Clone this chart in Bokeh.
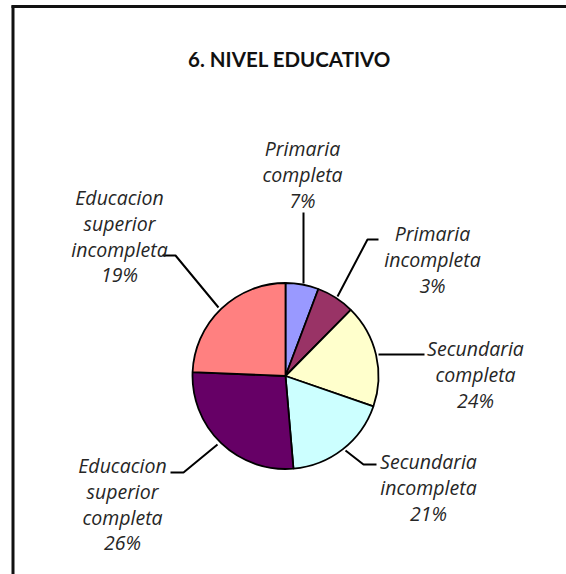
import numpy as np
from bokeh.plotting import figure
from bokeh.models import ColumnDataSource, Range1d
from bokeh.core.properties import value
from bokeh.embed import file_html
from bokeh.resources import INLINE

# ---------------- data ----------------
title_text = "6. NIVEL EDUCATIVO"
categories = ["Primaria completa", "Primaria incompleta", "Secundaria completa",
              "Secundaria incompleta", "Educacion superior completa",
              "Educacion superior incompleta"]
label_lines = [["Primaria", "completa"], ["Primaria", "incompleta"],
               ["Secundaria", "completa"], ["Secundaria", "incompleta"],
               ["Educacion", "superior", "completa"],
               ["Educacion", "superior", "incompleta"]]
pct_labels = ["7%", "3%", "24%", "21%", "26%", "19%"]
# slice sizes as drawn in the picture (share of the circle, %)
slice_shares = [5.75, 6.64, 17.92, 18.33, 27.03, 24.33]
colors = ["#9999FF", "#993366", "#FFFFCC", "#CCFFFF", "#660066", "#FF8080"]

# ---------------- layout (image pixel coords) ----------------
W, H = 566, 574
def Y(img_y):
    return H - img_y

pie_cx, pie_cy, pie_r = 285, 375.5, 93
label_pos = [(302, 148), (432, 233), (475, 348), (428, 461), (122, 465), (119, 197)]
line_step = 25.8
leaders = [
    [(303, 212), (303, 283)],
    [(378, 239), (367, 239), (337, 296)],
    [(424, 354), (378, 354)],
    [(376, 464), (363, 464), (345, 450)],
    [(170, 472), (183, 472), (217, 444)],
    [(162, 255), (175, 255), (218, 307)],
]
FONT = "Open Sans"
TXT = "#262626"

p = figure(width=W, height=H, x_range=Range1d(0, W), y_range=Range1d(0, H),
           output_backend="svg", toolbar_location=None, min_border=0)
p.axis.visible = False
p.grid.visible = False
p.outline_line_color = None
p.background_fill_color = "white"
p.border_fill_color = "white"

# border of the chart area
p.line(x=[12.5, 12.5], y=[Y(576), Y(5)], line_color="#111111", line_width=3)
p.line(x=[11, 570], y=[Y(6), Y(6)], line_color="#111111", line_width=3)

# title
p.text(x=[289], y=[Y(58)], text=[title_text], text_font=value("Lato"),
       text_font_style="bold", text_font_size="20.5px", text_align="center",
       text_baseline="middle", text_color="#111111")

# pie
shares = np.array(slice_shares) / sum(slice_shares)
cum = np.concatenate([[0], np.cumsum(shares)])
start = np.pi / 2 - cum[:-1] * 2 * np.pi
end = np.pi / 2 - cum[1:] * 2 * np.pi
src = ColumnDataSource(dict(start=start, end=end, color=colors, cat=categories))
p.wedge(x=pie_cx, y=Y(pie_cy), radius=pie_r, start_angle="start", end_angle="end",
        direction="clock", fill_color="color", line_color="black", line_width=1.8,
        source=src)

# leader lines
p.multi_line(xs=[[pt[0] for pt in l] for l in leaders],
             ys=[[Y(pt[1]) for pt in l] for l in leaders],
             line_color="black", line_width=2)

# labels
tx, ty, tt = [], [], []
for (lx, ly), lines, pct in zip(label_pos, label_lines, pct_labels):
    for i, s in enumerate(lines + [pct]):
        tx.append(lx)
        ty.append(Y(ly + i * line_step))
        tt.append(s)
p.text(x=tx, y=ty, text=tt, text_font=value(FONT), text_font_style="italic",
       text_font_size="19.5px", text_align="center", text_baseline="middle",
       text_color=TXT)

open("out.html", "w").write(file_html(p, INLINE))
